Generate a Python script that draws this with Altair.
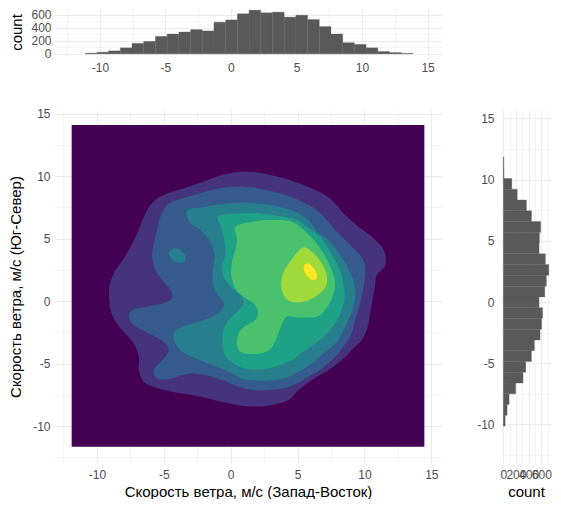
import altair as alt
import pandas as pd

# ---------------- data ----------------
# top marginal histogram (West-East component), counts per bin, left to right
TOP_BIN_START = -11.12
TOP_BIN_WIDTH = 0.893
TOP_COUNTS = [10, 25, 45, 92, 160, 190, 267, 303, 333, 370, 350, 483, 518, 612,
              667, 627, 637, 560, 590, 524, 416, 303, 170, 144, 92, 36, 20, 8]

# right marginal histogram (South-North component), counts per bin, top to bottom
RIGHT_BIN_TOP = 11.86
RIGHT_BIN_WIDTH = 0.88
RIGHT_COUNTS = [10, 12, 135, 220, 365, 445, 590, 570, 565, 665, 718, 680, 655,
                565, 620, 605, 580, 490, 445, 355, 312, 195, 92, 60, 30]

# density raster extent (level 0 fills it)
RASTER_X = [-11.89, 14.48]
RASTER_Y = [-11.65, 14.08]

# filled density contours (outer boundary of each level), x = W-E, y = S-N
CONTOUR_L1 = [(0.72, 10.35), (2.09, 10.27), (3.33, 10.00), (4.58, 9.63), (6.07, 9.01), (7.06, 8.48),
              (7.81, 7.81), (8.56, 6.88), (9.55, 5.95), (10.55, 5.15), (11.29, 4.35), (11.59, 3.55),
              (11.49, 2.75), (10.92, 2.08), (10.80, 1.28), (10.60, 0.08), (10.42, -0.99), (10.25, -2.05),
              (9.80, -3.12), (9.05, -3.92), (8.31, -4.72), (7.31, -5.52), (6.07, -6.32), (5.07, -7.12),
              (4.33, -7.92), (3.08, -8.32), (1.59, -8.45), (0.10, -8.24), (-1.39, -7.87), (-2.89, -7.52),
              (-4.38, -7.25), (-5.62, -6.91), (-6.49, -6.45), (-6.87, -5.52), (-6.87, -4.45), (-7.24, -3.39),
              (-7.99, -2.45), (-8.61, -1.65), (-8.98, -0.72), (-9.10, 0.61), (-8.98, 1.55), (-8.61, 2.48),
              (-7.99, 3.41), (-7.49, 4.35), (-6.99, 5.41), (-6.49, 6.75), (-6.00, 7.68), (-5.37, 8.29),
              (-4.38, 8.75), (-3.13, 9.15), (-1.89, 9.63), (-0.65, 10.08)]
CONTOUR_L2 = [(-4.63, 7.81), (-3.38, 8.29), (-1.89, 8.75), (-0.40, 9.09), (1.09, 9.15), (2.59, 8.88),
              (4.08, 8.48), (5.32, 7.95), (6.44, 7.28), (7.31, 6.35), (8.06, 5.41), (9.05, 4.35),
              (9.93, 3.28), (10.05, 2.21), (9.93, 1.15), (9.68, -0.19), (9.30, -1.52), (9.05, -2.59),
              (8.43, -3.65), (7.69, -4.59), (6.82, -5.39), (5.82, -6.05), (4.70, -6.72), (3.33, -7.07),
              (1.84, -7.12), (0.60, -6.85), (-0.65, -6.32), (-1.89, -5.92), (-2.89, -5.79), (-3.63, -5.92),
              (-4.38, -6.19), (-5.12, -6.27), (-5.62, -6.05), (-5.75, -5.52), (-5.37, -4.99), (-4.88, -4.45),
              (-4.63, -3.92), (-4.88, -3.39), (-5.62, -2.85), (-6.62, -2.32), (-7.36, -1.79), (-7.61, -1.25),
              (-7.36, -0.72), (-6.37, -0.45), (-5.12, -0.19), (-4.38, 0.21), (-4.50, 0.88), (-5.12, 1.68),
              (-5.62, 2.48), (-5.87, 3.55), (-5.75, 4.61), (-5.50, 5.68), (-5.25, 6.75)]
CONTOUR_L3_MAIN = [(-3.26, 7.28), (-3.08, 6.35), (-2.26, 5.68), (-1.52, 4.75), (-1.19, 3.68), (-1.34, 2.48),
                   (-1.34, 1.28), (-0.95, 0.48), (-0.52, -0.05), (-0.65, -0.72), (-1.39, -1.25), (-2.39, -1.65),
                   (-3.63, -2.05), (-4.25, -2.59), (-4.13, -3.39), (-3.51, -4.13), (-2.39, -4.67), (-1.14, -5.20),
                   (0.10, -5.79), (1.09, -6.27), (2.59, -6.37), (3.96, -6.19), (5.07, -5.65), (6.07, -4.99),
                   (7.06, -4.05), (7.94, -3.25), (8.56, -2.05), (9.00, -1.04), (9.30, 0.21), (9.25, 1.41),
                   (8.81, 2.53), (8.18, 3.68), (7.31, 4.88), (6.44, 5.55), (5.82, 6.48), (4.83, 7.15),
                   (3.58, 7.55), (2.09, 7.81), (0.60, 7.87), (-0.90, 7.73), (-2.14, 7.49)]
CONTOUR_L3_SPOT = [(-4.63, 3.95), (-4.25, 4.21), (-3.76, 4.08), (-3.43, 3.68), (-3.38, 3.28), (-3.68, 3.07),
                   (-4.13, 3.15), (-4.50, 3.49)]
CONTOUR_L4 = [(-0.90, 6.80), (0.60, 7.01), (2.09, 7.01), (3.58, 6.80), (4.95, 6.48), (5.82, 5.81),
              (6.69, 5.15), (7.44, 3.95), (8.06, 2.75), (8.43, 1.41), (8.51, 0.21), (8.26, -0.85),
              (7.81, -1.79), (7.19, -2.59), (6.32, -3.39), (5.32, -4.13), (4.58, -4.72), (3.46, -5.20),
              (2.34, -5.47), (1.09, -5.39), (0.22, -4.99), (-0.40, -4.40), (-0.60, -3.39), (-0.52, -2.32),
              (-0.15, -1.52), (0.47, -0.85), (0.97, -0.19), (0.72, 0.48), (0.10, 1.01), (-0.52, 1.95),
              (-0.65, 2.75), (-0.40, 3.81), (-0.52, 5.15), (-0.77, 6.08)]
CONTOUR_L5 = [(0.35, 5.95), (1.59, 6.35), (3.08, 6.48), (4.58, 6.35), (5.45, 5.68), (6.32, 4.75),
              (6.94, 3.81), (7.51, 2.61), (7.81, 1.41), (7.56, 0.21), (7.06, -0.72), (6.44, -1.25),
              (5.07, -1.31), (4.20, -1.25), (3.83, -1.92), (3.46, -2.85), (3.08, -3.71), (2.46, -4.13),
              (1.47, -4.24), (0.72, -4.05), (0.47, -3.39), (0.60, -2.59), (1.09, -2.00), (1.84, -1.52),
              (2.04, -0.85), (1.72, -0.19), (0.97, 0.35), (0.35, 1.01), (0.05, 2.08), (0.10, 3.15),
              (0.35, 4.08), (0.47, 5.01)]
CONTOUR_L6 = [(5.45, 4.29), (6.07, 3.95), (6.69, 3.23), (7.14, 2.27), (7.19, 1.41), (6.94, 0.88),
              (6.32, 0.35), (5.45, -0.05), (4.58, -0.05), (4.03, 0.35), (3.78, 1.28), (3.96, 2.35),
              (4.45, 3.15), (4.95, 3.87)]
CONTOUR_L7 = [(5.52, 2.88), (5.82, 3.01), (6.17, 2.69), (6.44, 2.16), (6.39, 1.76), (6.07, 1.68),
              (5.72, 2.00), (5.47, 2.48)]

VIRIDIS8 = ["#440154", "#46337E", "#365C8D", "#277F8E", "#1FA187", "#4AC16D", "#9FDA3A", "#FDE725"]

X_TITLE = "Скорость ветра, м/с (Запад-Восток)"
Y_TITLE = "Скорость ветра, м/с (Юг-Север)"

POS_TICKS = [-12.5, -10, -7.5, -5, -2.5, 0, 2.5, 5, 7.5, 10, 12.5, 15]
TOP_COUNT_TICKS = [0, 100, 200, 300, 400, 500, 600]
RIGHT_COUNT_TICKS = [0, 100, 200, 300, 400, 500, 600, 700]

# ---------------- build tables ----------------
top_df = pd.DataFrame({
    "x": [TOP_BIN_START + i * TOP_BIN_WIDTH for i in range(len(TOP_COUNTS))],
    "x2": [TOP_BIN_START + (i + 1) * TOP_BIN_WIDTH for i in range(len(TOP_COUNTS))],
    "count": TOP_COUNTS,
    "base": [0] * len(TOP_COUNTS),
})
right_df = pd.DataFrame({
    "y": [RIGHT_BIN_TOP - i * RIGHT_BIN_WIDTH for i in range(len(RIGHT_COUNTS))],
    "y2": [RIGHT_BIN_TOP - (i + 1) * RIGHT_BIN_WIDTH for i in range(len(RIGHT_COUNTS))],
    "count": RIGHT_COUNTS,
    "base": [0] * len(RIGHT_COUNTS),
})

bg_df = pd.DataFrame({"x": [RASTER_X[0]], "x2": [RASTER_X[1]],
                      "y": [RASTER_Y[0]], "y2": [RASTER_Y[1]], "level": [0]})

polys = [(1, "a", CONTOUR_L1), (2, "a", CONTOUR_L2), (3, "a", CONTOUR_L3_MAIN), (3, "b", CONTOUR_L3_SPOT),
         (4, "a", CONTOUR_L4), (5, "a", CONTOUR_L5), (6, "a", CONTOUR_L6), (7, "a", CONTOUR_L7)]
rows = []
for lvl, pid, pts in polys:
    for k, (px, py) in enumerate(pts):
        rows.append({"level": lvl, "poly": f"{lvl}{pid}", "idx": k, "x": px, "y": py})
cont_df = pd.DataFrame(rows)

# ---------------- styling helpers ----------------
FONT = "Liberation Sans"
LABEL_COLOR = "#4D4D4D"
GRID_COLOR = "#EBEBEB"


def base_axis(values, major_test, title, **kw):
    args = dict(
        values=values,
        labelExpr=f"{major_test} ? '' + datum.value : ''",
        grid=True, gridColor=GRID_COLOR,
        gridWidth={"condition": {"test": major_test, "value": 1.1}, "value": 0.55},
        ticks=False, domain=False,
        labelFontSize=12, labelColor=LABEL_COLOR, labelFont=FONT,
        labelFlush=False, labelOverlap=False,
        titleFontSize=15, titleFontWeight="normal", titleColor="#000000", titleFont=FONT,
        title=title,
    )
    args.update(kw)
    return alt.Axis(**args)


def pos_axis(title, **kw):
    return base_axis(POS_TICKS, "datum.value % 5 === 0", title, **kw)


def count_axis(values, title, **kw):
    return base_axis(values, "datum.value % 200 === 0", title, **kw)


MAIN_W, MAIN_H = 388, 353
TOP_H = 48
RIGHT_W = 50

# ---------------- main density panel ----------------
xs_main = alt.Scale(domain=[-13.21, 15.80], nice=False, zero=False)
ys_main = alt.Scale(domain=[-12.96, 15.28], nice=False, zero=False)
color_scale = alt.Scale(domain=list(range(8)), range=VIRIDIS8)

x_ax_main = pos_axis(X_TITLE, labelPadding=6, titlePadding=4)
y_ax_main = pos_axis(Y_TITLE, labelPadding=4, titlePadding=9)

bg = alt.Chart(bg_df).mark_rect().encode(
    x=alt.X("x:Q", scale=xs_main, axis=x_ax_main),
    x2="x2:Q",
    y=alt.Y("y:Q", scale=ys_main, axis=y_ax_main),
    y2="y2:Q",
    color=alt.Color("level:O", scale=color_scale, legend=None),
)

layers = [bg]
for lvl in range(1, 8):
    layers.append(
        alt.Chart(cont_df[cont_df["level"] == lvl]).mark_line(
            filled=True, interpolate="cardinal-closed", strokeWidth=0
        ).encode(
            x=alt.X("x:Q", scale=xs_main, axis=x_ax_main),
            y=alt.Y("y:Q", scale=ys_main, axis=y_ax_main),
            order="idx:Q",
            detail="poly:N",
            color=alt.Color("level:O", scale=color_scale, legend=None),
        )
    )
main = alt.layer(*layers).properties(width=MAIN_W, height=MAIN_H)

# ---------------- top histogram ----------------
top = alt.Chart(top_df).mark_bar(color="#595959", stroke="#595959", strokeWidth=0.3).encode(
    x=alt.X("x:Q", scale=alt.Scale(domain=[-13.5, 16.1], nice=False, zero=False),
            axis=pos_axis(None, labelPadding=6)),
    x2="x2:Q",
    y=alt.Y("count:Q", scale=alt.Scale(domain=[-33, 700], nice=False, zero=False),
            axis=count_axis(TOP_COUNT_TICKS, "count", labelPadding=3, titlePadding=6)),
    y2="base:Q",
).properties(width=MAIN_W, height=TOP_H)

# ---------------- right histogram ----------------
right = alt.Chart(right_df).mark_bar(color="#595959", stroke="#595959", strokeWidth=0.3).encode(
    y=alt.Y("y:Q", scale=alt.Scale(domain=[-13.15, 15.69], nice=False, zero=False),
            axis=pos_axis(None, labelPadding=7)),
    y2="y2:Q",
    x=alt.X("count:Q", scale=alt.Scale(domain=[-36, 753], nice=False, zero=False),
            axis=count_axis(RIGHT_COUNT_TICKS, "count", labelPadding=6, titlePadding=4)),
    x2="base:Q",
).properties(width=RIGHT_W, height=MAIN_H)

spacer = alt.Chart(pd.DataFrame({"v": [0]})).mark_point(opacity=0).encode(
    x=alt.X("v:Q", axis=None), y=alt.Y("v:Q", axis=None)
).properties(width=RIGHT_W, height=TOP_H)

chart = alt.ConcatChart(
    concat=[top, spacer, main, right],
    columns=2,
    spacing={"row": 34, "column": 34},
    align="each",
    padding={"left": 0, "top": 0, "right": 0, "bottom": 0},
    background="white",
).configure(font=FONT, view=alt.ViewConfig(stroke="transparent", strokeWidth=0))

chart.save("out.html", embed_options={"renderer": "svg", "actions": False})
